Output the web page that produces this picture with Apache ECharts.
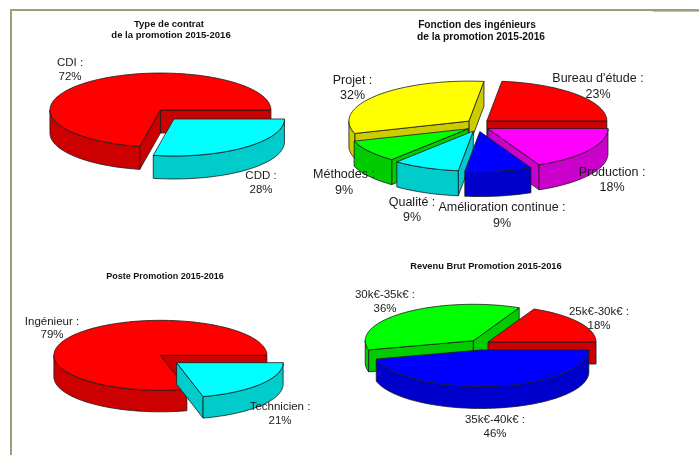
<!DOCTYPE html>
<html>
<head>
<meta charset="utf-8">
<style>html,body{margin:0;padding:0;background:#fff}#chart{width:699px;height:455px;filter:blur(0.35px)}</style>
<script src="https://cdn.jsdelivr.net/npm/echarts@6/dist/echarts.min.js"></script>
</head>
<body>
<div id="chart"></div>
<script>
// values in percent, slices go counter-clockwise from 3 o'clock
var contratNames = ['CDI', 'CDD'];
var contratValues = [72, 28];
var fonctionNames = ["Bureau d'étude", 'Projet', 'Méthodes', 'Qualité', 'Amélioration continue', 'Production'];
var fonctionValues = [23, 32, 9, 9, 9, 18];
var posteNames = ['Ingénieur', 'Technicien'];
var posteValues = [79, 21];
var revenuNames = ['25k€-30k€', '30k€-35k€', '35k€-40k€'];
var revenuValues = [18, 36, 46];

var contratColors = ['#ff0000', '#00ffff'];
var fonctionColors = ['#ff0000', '#ffff00', '#00ff00', '#00ffff', '#0000ff', '#ff00ff'];
var posteColors = ['#ff0000', '#00ffff'];
var revenuColors = ['#ff0000', '#00ff00', '#0000ff'];

var pies = [
    {names: contratNames, values: contratValues, colors: contratColors,
     cx: 167.2, cy: 114.5, rx: 110.5, ry: 37, h: 23, ex: 10.6, ey: 5.8, fontSize: 11.5, lineHeight: 14.3,
     labels: [[70, 70], [261, 183]]},
    {names: fonctionNames, values: fonctionValues, colors: fonctionColors,
     cx: 478, cy: 125.2, rx: 120, ry: 40, h: 25, ex: 11.8, ey: 6.4, fontSize: 12.5, lineHeight: 15.3,
     labels: [[598, 86.5], [352.5, 88], [344, 182.5], [412, 210], [502, 215.5], [612, 180]]},
    {names: posteNames, values: posteValues, colors: posteColors,
     cx: 168.5, cy: 359, rx: 106.5, ry: 35, h: 21.5, ex: 10.25, ey: 6, fontSize: 11.5, lineHeight: 13.5,
     labels: [[52, 328.5], [280, 414]]},
    {names: revenuNames, values: revenuValues, colors: revenuColors,
     cx: 479.6, cy: 344.8, rx: 108, ry: 36.5, h: 22, ex: 10, ey: 5.2, fontSize: 11.5, lineHeight: 14.3,
     labels: [[599, 319], [385, 302], [495, 427]]}
];

var titles = [
    {text: 'Type de contrat', x: 169, y: 24, size: 9.5},
    {text: 'de la promotion 2015-2016', x: 171, y: 35.5, size: 9.5},
    {text: 'Fonction des ingénieurs', x: 477, y: 25, size: 10.2},
    {text: 'de la promotion 2015-2016', x: 481, y: 37, size: 10.2},
    {text: 'Poste Promotion 2015-2016', x: 165, y: 277, size: 9},
    {text: 'Revenu Brut Promotion 2015-2016', x: 486, y: 266, size: 9.3}
];

var lineColor = '#1a1a1a';

function darken(hex) {
    var c = echarts.color.parse(hex);
    return 'rgb(' + Math.round(c[0] * 0.8) + ',' + Math.round(c[1] * 0.8) + ',' + Math.round(c[2] * 0.8) + ')';
}

function ellipsePoint(p, ox, oy, deg, dy) {
    var a = deg * Math.PI / 180;
    return [ox + p.rx * Math.cos(a), oy - p.ry * Math.sin(a) + (dy || 0)];
}

function arcPoints(p, ox, oy, from, to, dy) {
    var pts = [];
    var steps = Math.max(2, Math.ceil((to - from) / 2));
    for (var i = 0; i <= steps; i++) {
        pts.push(ellipsePoint(p, ox, oy, from + (to - from) * i / steps, dy));
    }
    return pts;
}

function face(points, fill) {
    return {
        type: 'polygon',
        shape: {points: points},
        style: {fill: fill, stroke: lineColor, lineWidth: 0.8}
    };
}

function makeSeries(p) {
    // back slices first so the front ones paint over them
    var total = 0;
    var data = p.values.map(function (v, i) {
        var row = [total, v, i];
        total += v;
        return row;
    });
    data.sort(function (a, b) {
        var ma = (a[0] + a[1] / 2) * 3.6 * Math.PI / 180;
        var mb = (b[0] + b[1] / 2) * 3.6 * Math.PI / 180;
        return Math.sin(mb) - Math.sin(ma);
    });
    return {
        type: 'custom',
        coordinateSystem: 'none',
        silent: true,
        animation: false,
        data: data,
        renderItem: function (params, api) {
            var from = api.value(0) * 3.6;
            var to = from + api.value(1) * 3.6;
            var mid = (from + to) / 2 * Math.PI / 180;
            var ox = p.cx + p.ex * Math.cos(mid);
            var oy = p.cy - p.ey * Math.sin(mid);
            var fill = p.colors[api.value(2)];
            var dark = darken(fill);
            var kids = [];

            // radial walls, only the ones facing the viewer
            [[from, from - 90], [to, to + 90]].forEach(function (w) {
                if (Math.sin(w[1] * Math.PI / 180) < 0) {
                    var e = ellipsePoint(p, ox, oy, w[0]);
                    kids.push(face([[ox, oy], e, [e[0], e[1] + p.h], [ox, oy + p.h]], dark));
                }
            });
            // rim, front half of the ellipse only
            var a = Math.max(from, 180), b = Math.min(to, 360);
            if (b > a) {
                kids.push(face(arcPoints(p, ox, oy, a, b).concat(arcPoints(p, ox, oy, a, b, p.h).reverse()), dark));
            }
            kids.push(face([[ox, oy]].concat(arcPoints(p, ox, oy, from, to)), fill));
            return {type: 'group', children: kids};
        }
    };
}

var graphics = [
    {type: 'rect', shape: {x: 10, y: 9, width: 689, height: 2}, style: {fill: '#a39b7e'}},
    {type: 'rect', shape: {x: 653, y: 11, width: 46, height: 1}, style: {fill: '#c4bfa9'}},
    {type: 'rect', shape: {x: 10, y: 9, width: 2, height: 446}, style: {fill: '#a39b7e'}}
];

titles.forEach(function (t) {
    graphics.push({
        type: 'text', z: 10, x: t.x, y: t.y,
        style: {text: t.text, fill: '#111', font: 'bold ' + t.size + 'px "Liberation Sans", Arial, sans-serif', align: 'center', verticalAlign: 'middle'}
    });
});

pies.forEach(function (p) {
    p.names.forEach(function (name, i) {
        graphics.push({
            type: 'text', z: 10, x: p.labels[i][0], y: p.labels[i][1],
            style: {
                text: name + ' :\n' + p.values[i] + '%',
                fill: '#1a1a1a', font: p.fontSize + 'px "Liberation Sans", Arial, sans-serif',
                lineHeight: p.lineHeight, align: 'center', verticalAlign: 'middle'
            }
        });
    });
});

var chart = echarts.init(document.getElementById('chart'), null, {renderer: 'canvas'});
chart.setOption({
    backgroundColor: '#fff',
    animation: false,
    series: pies.map(makeSeries),
    graphic: {elements: graphics}
});
</script>
</body>
</html>
